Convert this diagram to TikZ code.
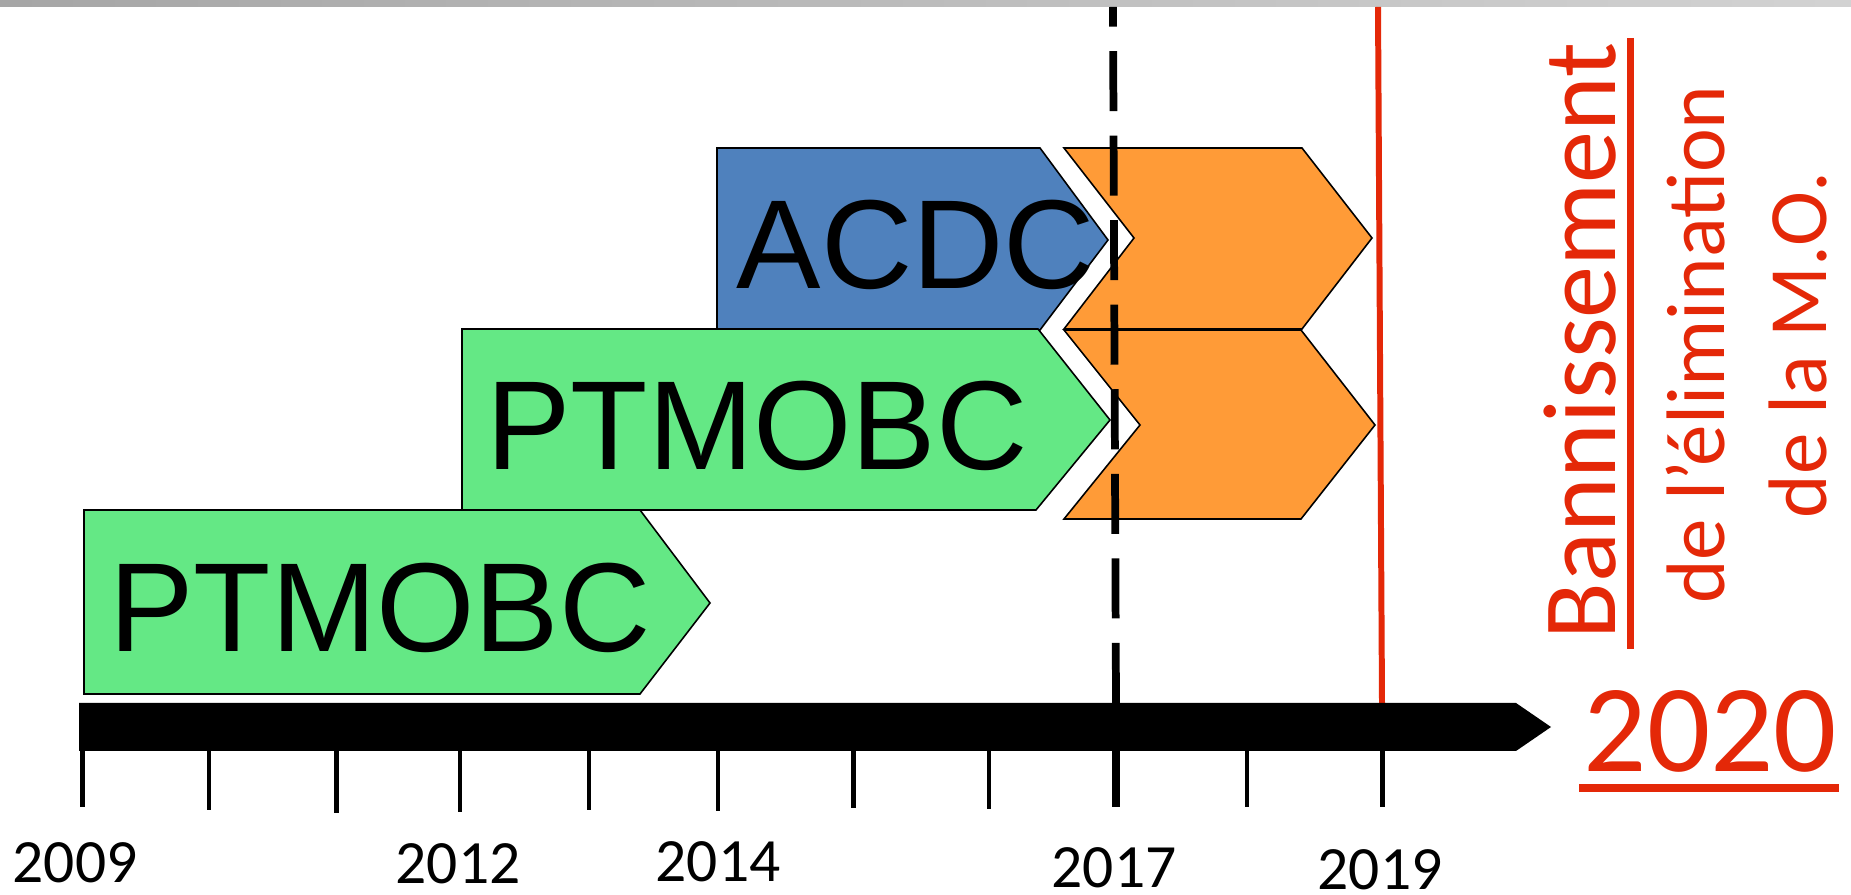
\documentclass[tikz,border=0pt]{standalone}
\usepackage{fontspec}
\setmainfont{Carlito}
\newfontfamily\arialfont{Liberation Sans}
\definecolor{phasegreen}{RGB}{100,232,133}
\definecolor{phaseblue}{RGB}{79,129,189}
\definecolor{phaseorange}{RGB}{255,155,55}
\definecolor{banred}{RGB}{228,40,8}

\begin{document}
\begin{tikzpicture}[x=0.01cm, y=-0.01cm,
  phase/.style={draw=black, line width=0.45pt},
  tag/.style={font=\arialfont\fontsize{36}{40}\selectfont, inner sep=0pt, anchor=base},
  year/.style={font=\fontsize{17.5}{20}\selectfont, inner sep=0pt, anchor=base},
  redtext/.style={banred, inner sep=0pt, anchor=base, rotate=90},
  tick/.style={line width=1.4pt},
  redrule/.style={banred, line width=2pt}]

  \useasboundingbox (0,0) rectangle (1851,895);
  \shade[left color=gray!70, right color=gray!35] (0,0) rectangle (1851,7);

  % program phases
  \filldraw[phase, fill=phaseblue] (717,148) -- (1040,148) -- (1108,240) -- (1040,330) -- (717,330) -- cycle;
  \filldraw[phase, fill=phasegreen] (84,510) -- (640,510) -- (710,603) -- (640,694) -- (84,694) -- cycle;
  \filldraw[phase, fill=phasegreen] (462,329) -- (1038,329) -- (1110,420) -- (1036,510) -- (462,510) -- cycle;
  \filldraw[phase, fill=phaseorange] (1064,148) -- (1302,148) -- (1372,238) -- (1302,329) -- (1064,329) -- (1134,238) -- cycle;
  \filldraw[phase, fill=phaseorange] (1064,330) -- (1301,330) -- (1375,425) -- (1301,519) -- (1064,519) -- (1140,425) -- cycle;

  \node[tag] (acdc) at (916,289) {ACDC};
  \node[tag] (ptmobc2) at (757,470) {PTMOBC};
  \node[tag] (ptmobc1) at (380,652) {PTMOBC};

  % 2017 and 2019 markers
  \draw[line width=2.2pt, dash pattern=on 17.07pt off 6.97pt, dash phase=11.5pt] (1113,7) -- (1116,703);
  \draw[banred, line width=1.7pt] (1378,7) -- (1382,703);

  % time axis
  \fill[black] (79,703) -- (1516,703) -- (1551,727) -- (1516,751) -- (79,751) -- cycle;
  \draw[tick] (82.6,745) -- (82.6,807);
  \draw[tick] (209,745) -- (209,810);
  \draw[tick] (336.5,745) -- (336.5,813);
  \draw[tick] (460,745) -- (460,812);
  \draw[tick] (589,745) -- (589,810);
  \draw[tick] (718,745) -- (718,811);
  \draw[tick] (853.6,745) -- (853.6,808);
  \draw[tick] (989,745) -- (989,809);
  \draw[tick, line width=2pt] (1116,745) -- (1116,807);
  \draw[tick] (1247,745) -- (1247,807);
  \draw[tick] (1382.5,745) -- (1382.5,807);

  \node[year] (y2009) at (75,883) {2009};
  \node[year] (y2012) at (458,884) {2012};
  \node[year] (y2014) at (718,882) {2014};
  \node[year] (y2017) at (1114,888) {2017};
  \node[year] (y2019) at (1380,890) {2019};

  % ban
  \node[redtext, font=\fontsize{29.6}{32}\selectfont] (ban) at (1615,341) {Bannissement};
  \draw[redrule] (1630.5,38) -- (1630.5,649);
  \node[redtext, font=\fontsize{23.6}{28}\selectfont] (elim) at (1724,344.5) {de l’élimination};
  \node[redtext, font=\fontsize{23.6}{28}\selectfont] (mo) at (1826,345) {de la M.O.};
  \node[banred, inner sep=0pt, anchor=base, font=\fontsize{35.5}{40}\selectfont] (y2020) at (1710.5,772) {2020};
  \draw[redrule, line width=2.3pt] (1579,788) -- (1839,788);
\end{tikzpicture}
\end{document}
